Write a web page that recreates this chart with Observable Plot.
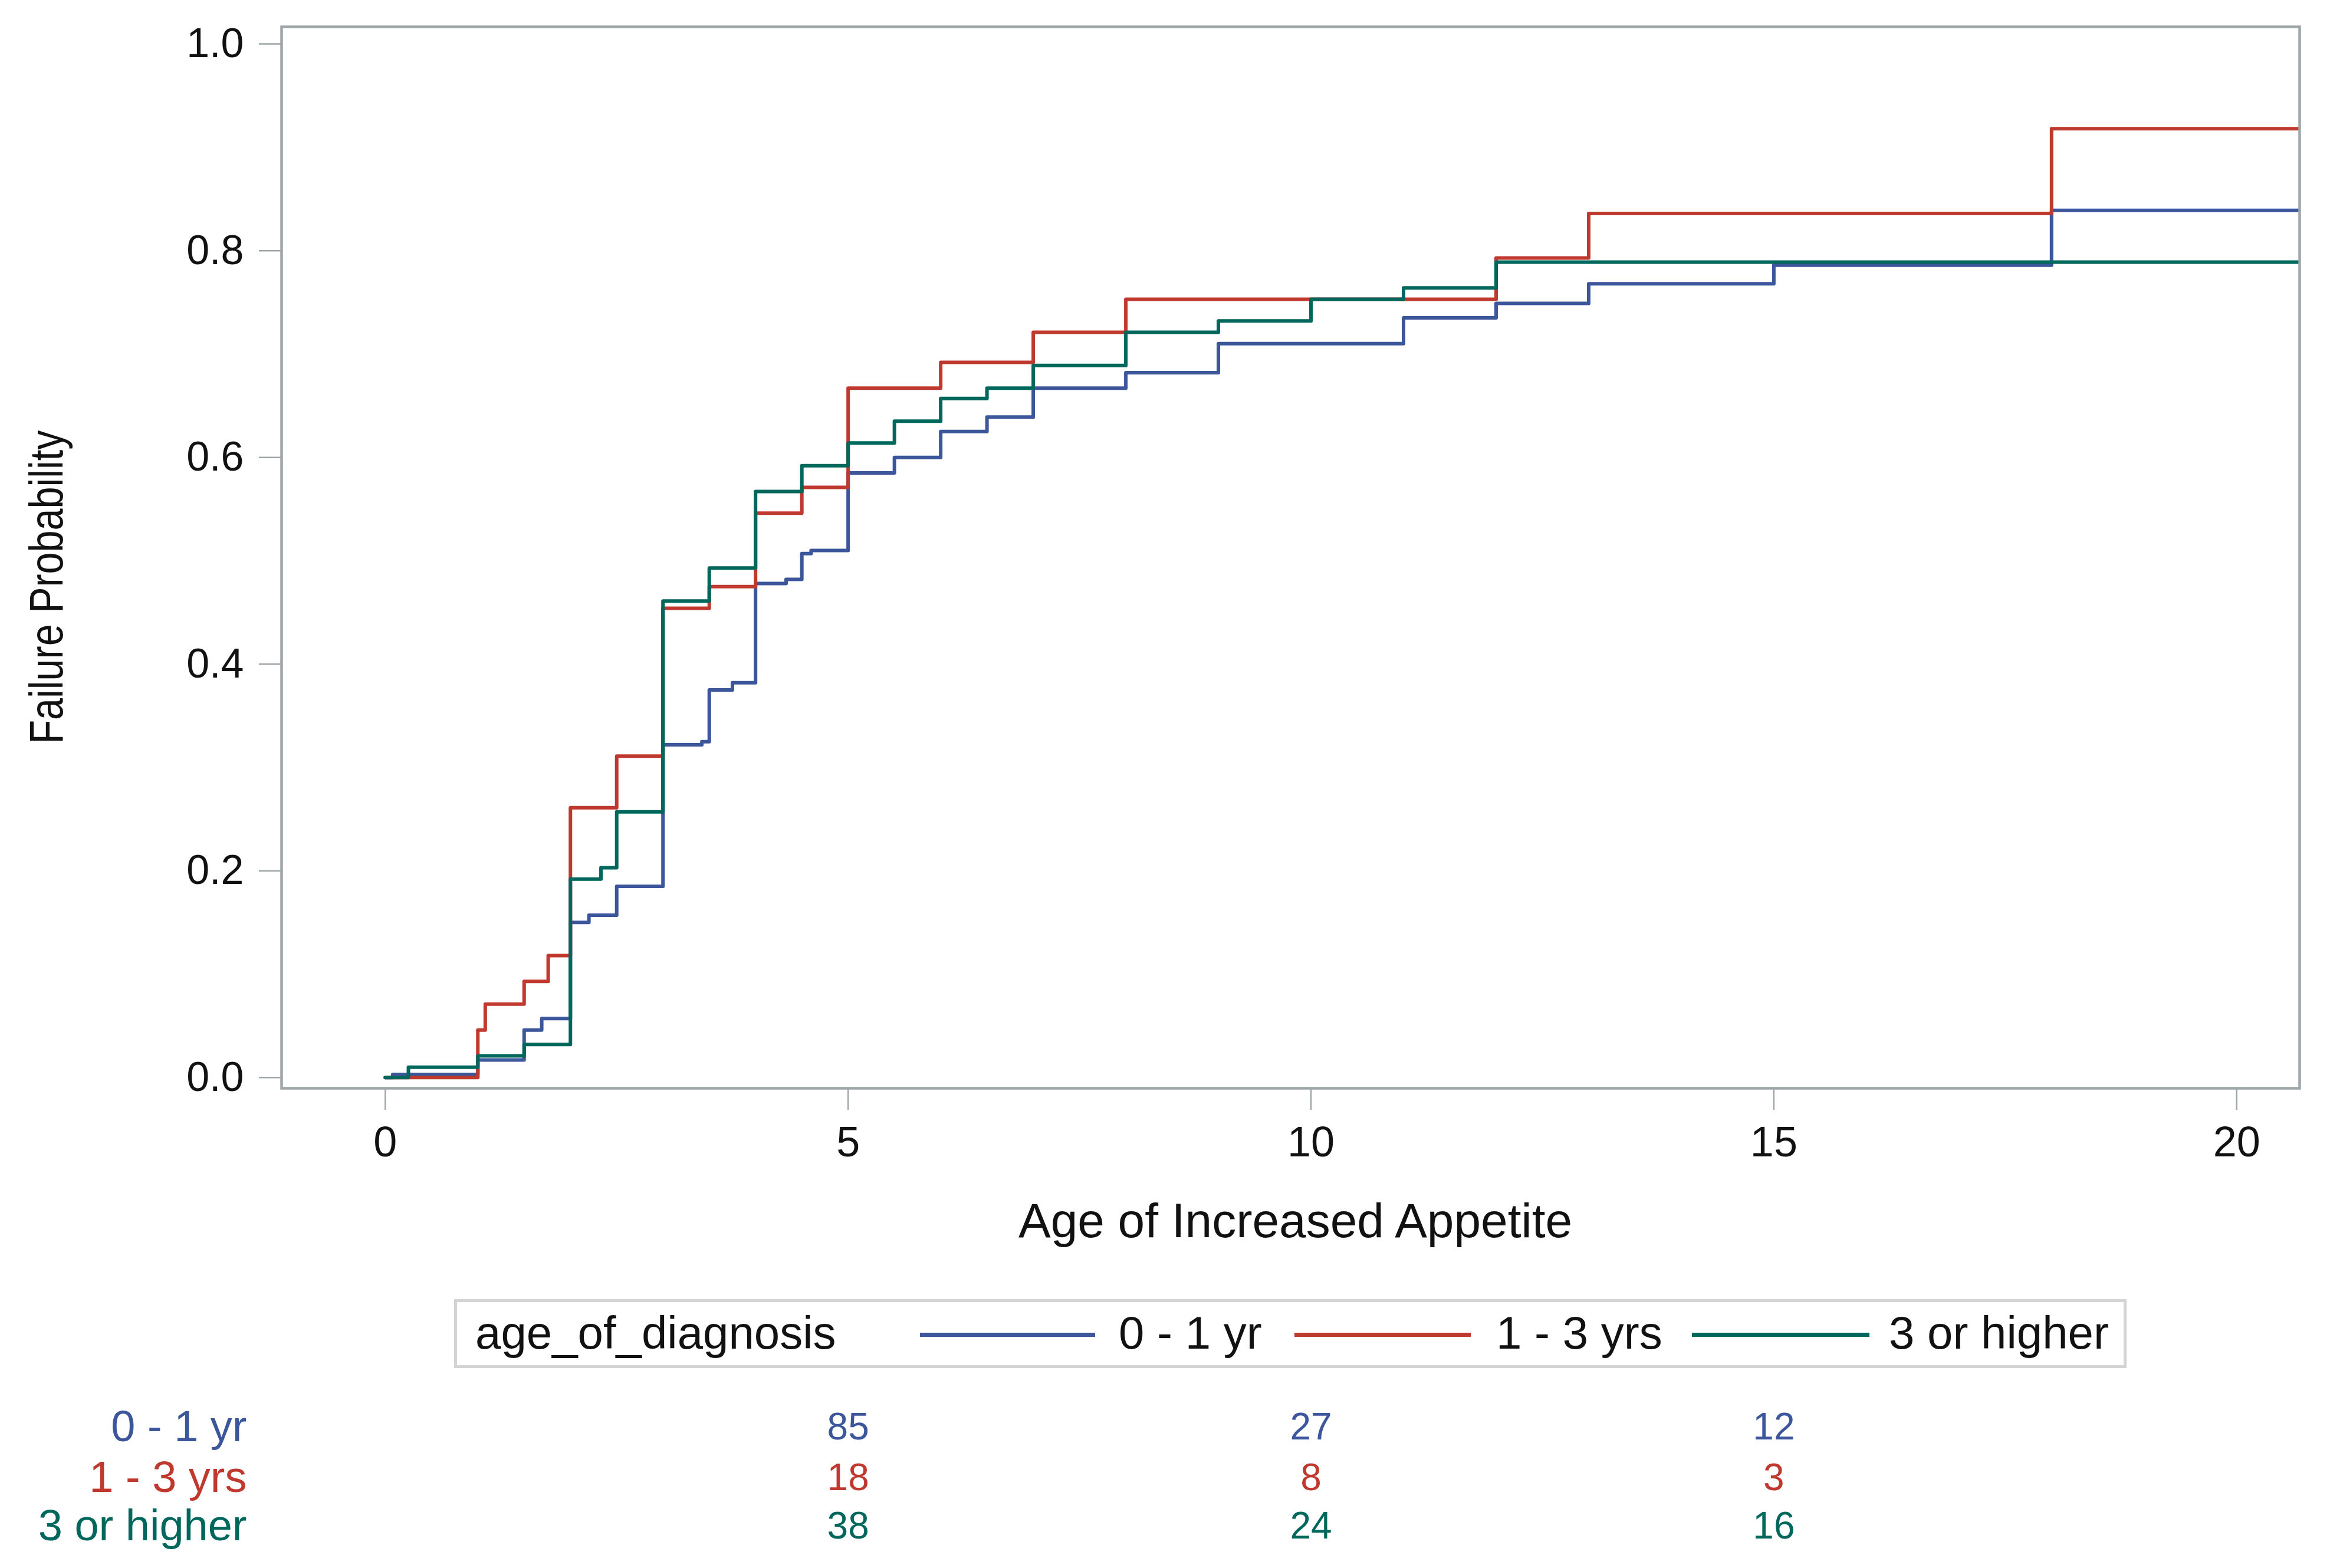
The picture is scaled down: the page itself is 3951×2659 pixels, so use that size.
<!DOCTYPE html>
<html><head><meta charset="utf-8">
<script src="https://cdn.jsdelivr.net/npm/d3@7"></script>
<script src="https://cdn.jsdelivr.net/npm/@observablehq/plot@0.6"></script>
<style>
html,body{margin:0;padding:0;background:#fff;}
#wrap{position:relative;width:3951px;height:2659px;font-family:"Liberation Sans",Arial,sans-serif;}
#legend{position:absolute;left:770px;top:2203px;width:2836px;height:117px;box-sizing:border-box;border:5px solid #d4d4d4;background:#fff;}
.lg{position:absolute;top:50%;transform:translateY(-52%);font-size:78px;line-height:1;white-space:nowrap;color:#111;}
.ln{position:absolute;top:50%;height:7px;margin-top:-2px;}
</style></head><body><div id="wrap"></div>
<script>
// ---- data ----
const groups = ["0 - 1 yr", "1 - 3 yrs", "3 or higher"];
const colors = ["#3b569b", "#c0392f", "#00675c"];

const timeA = [0, 0.08, 1, 1.5, 1.69, 2, 2.2, 2.5, 3, 3.42, 3.5, 3.75, 4, 4.33, 4.5, 4.6, 5, 5.5, 6, 6.5, 7, 8, 9, 11, 12, 13, 15, 18, 21];
const failA = [0, 0.003, 0.017, 0.046, 0.057, 0.150, 0.157, 0.185, 0.322, 0.325, 0.375, 0.382, 0.478, 0.482, 0.507, 0.510, 0.585, 0.600, 0.625, 0.639, 0.667, 0.682, 0.710, 0.735, 0.749, 0.768, 0.786, 0.839, 0.839];

const timeB = [0, 1, 1.08, 1.5, 1.76, 2, 2.5, 3, 3.5, 4, 4.5, 5, 6, 7, 8, 12, 13, 18, 21];
const failB = [0, 0.046, 0.071, 0.093, 0.118, 0.261, 0.311, 0.454, 0.475, 0.546, 0.571, 0.667, 0.692, 0.721, 0.753, 0.793, 0.836, 0.918, 0.918];

const timeC = [0, 0.25, 1, 1.5, 2, 2.33, 2.5, 3, 3.5, 4, 4.5, 5, 5.5, 6, 6.5, 7, 8, 9, 10, 11, 12, 21];
const failC = [0, 0.010, 0.021, 0.032, 0.192, 0.203, 0.257, 0.461, 0.493, 0.567, 0.592, 0.614, 0.635, 0.657, 0.667, 0.689, 0.721, 0.732, 0.753, 0.764, 0.789, 0.789];

const atRiskTimes = [5, 10, 15];
const atRiskA = [85, 27, 12];
const atRiskB = [18, 8, 3];
const atRiskC = [38, 24, 16];

const xTicks = [0, 5, 10, 15, 20];
const yTicks = [0, 0.2, 0.4, 0.6, 0.8, 1.0];
const xLabel = "Age of Increased Appetite";
const yLabel = "Failure Probability";
const legendTitle = "age_of_diagnosis";

// ---- build ----
const series = [[timeA, failA], [timeB, failB], [timeC, failC]]
  .map(([t, v]) => t.map((d, i) => ({t: d, v: v[i]})));
const risk = [atRiskA, atRiskB, atRiskC]
  .map(n => atRiskTimes.map((t, i) => ({t, n: n[i]})));

const gray = "#9ea6a8";
const rowDy = [575, 661, 743];

const marks = [
  Plot.axisY(yTicks, {tickFormat: d3.format(".1f"), tickSize: 38, tickPadding: 26, fontSize: 70, stroke: gray, strokeWidth: 2.5, color: "#111", label: null}),
  Plot.axisX(xTicks, {tickFormat: d3.format("d"), tickSize: 37, tickPadding: 27, fontSize: 72, stroke: gray, strokeWidth: 2.5, color: "#111", label: null}),
  ...series.map((s, i) => Plot.line(s, {x: "t", y: "v", curve: "step-after", stroke: colors[i], strokeWidth: 6, clip: true})),
  Plot.frame({stroke: gray, strokeWidth: 4.5}),
  Plot.text([yLabel], {frameAnchor: "left", text: d => d, rotate: -90, dx: -397, dy: 316, fontSize: 80, textAnchor: "start", lineAnchor: "middle", fill: "#111"}),
  Plot.text([xLabel], {frameAnchor: "bottom", text: d => d, dx: 8, dy: 226, fontSize: 82, lineAnchor: "middle", fill: "#111"}),
  ...groups.map((g, i) => Plot.text([g], {frameAnchor: "bottom-left", text: d => d, dx: -59, dy: rowDy[i], textAnchor: "end", lineAnchor: "middle", fill: colors[i], fontSize: 74})),
  ...risk.map((r, i) => Plot.text(r, {x: "t", text: "n", frameAnchor: "bottom", dy: rowDy[i], lineAnchor: "middle", fill: colors[i], fontSize: 64}))
];

const chart = Plot.plot({
  width: 3951, height: 2659,
  marginLeft: 477, marginRight: 52, marginTop: 45, marginBottom: 814,
  style: {fontFamily: "'Liberation Sans', Arial, sans-serif", background: "white", overflow: "visible"},
  x: {domain: [-1.12, 20.68]},
  y: {domain: [-0.0104, 1.0166]},
  marks
});

for (const t of chart.querySelectorAll("text")) {
  if (t.textContent === yLabel) { t.setAttribute("textLength", 532); t.setAttribute("lengthAdjust", "spacingAndGlyphs"); }
}

const wrap = document.getElementById("wrap");
wrap.appendChild(chart);

// legend (HTML, over the SVG's bottom margin)
const lg = document.createElement("div");
lg.id = "legend";
const items = [
  {type: "text", left: 31, text: legendTitle, color: "#111"},
  {type: "line", left: 785, width: 297, color: colors[0]},
  {type: "text", left: 1122, text: groups[0], color: "#111"},
  {type: "line", left: 1420, width: 299, color: colors[1]},
  {type: "text", left: 1762, text: groups[1], color: "#111"},
  {type: "line", left: 2094, width: 301, color: colors[2]},
  {type: "text", left: 2428, text: groups[2], color: "#111"}
];
for (const it of items) {
  const e = document.createElement("div");
  if (it.type === "text") { e.className = "lg"; e.textContent = it.text; e.style.left = it.left + "px"; e.style.color = it.color; }
  else { e.className = "ln"; e.style.left = it.left + "px"; e.style.width = it.width + "px"; e.style.background = it.color; }
  lg.appendChild(e);
}
wrap.appendChild(lg);
</script>
</body></html>
